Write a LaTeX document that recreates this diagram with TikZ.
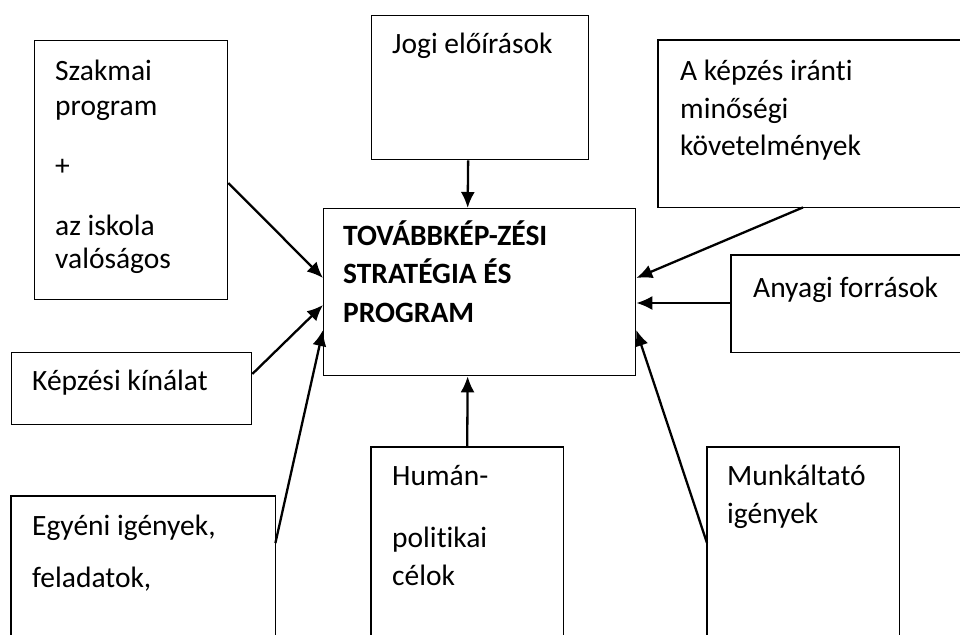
\documentclass[tikz,border=0pt]{standalone}
\usepackage{fontspec}
\setmainfont{Carlito}[Ligatures={NoCommon}]
\usetikzlibrary{arrows.meta}
\begin{document}
\begin{tikzpicture}[x=1pt,y=-1pt,
  box/.style={draw, line width=1.3pt, inner sep=0, anchor=north west},
  openbox/.style={inner sep=0, anchor=north west},
  lbl/.style={anchor=base west, inner sep=0, font=\fontsize{29.5}{35}\selectfont},
  blbl/.style={anchor=base west, inner sep=0, font=\fontsize{29.5}{35}\selectfont\bfseries},
  side/.style={line width=1.3pt},
  arr/.style={line width=2.3pt, -{Latex[length=16pt,width=14pt]}}]
\useasboundingbox (0,0) rectangle (960,634);
% boxes
\node[box, minimum width=193pt, minimum height=259pt] (szak) at (34,40) {};
\node[box, minimum width=217pt, minimum height=144pt] (jogi) at (371,15) {};
\node[openbox, minimum width=304pt, minimum height=167pt] (kepz) at (658,40) {};
\node[openbox, minimum width=231pt, minimum height=97pt] (anyag) at (731,255) {};
\node[box, minimum width=312pt, minimum height=167pt] (main) at (323,208) {};
\node[box, minimum width=240pt, minimum height=72pt] (kinal) at (11,352) {};
\node[openbox, minimum width=264pt, minimum height=140pt] (egyen) at (11,496) {};
\node[openbox, minimum width=192pt, minimum height=189pt] (human) at (371,447) {};
\node[openbox, minimum width=192pt, minimum height=189pt] (munk) at (707,447) {};
% open sides
\draw[side] (kepz.north east) -- (kepz.north west) -- (kepz.south west) -- (kepz.south east);
\draw[side] (anyag.north east) -- (anyag.north west) -- (anyag.south west) -- (anyag.south east);
\draw[side] (egyen.south west) -- (egyen.north west) -- (egyen.north east) -- (egyen.south east);
\draw[side] (human.south west) -- (human.north west) -- (human.north east) -- (human.south east);
\draw[side] (munk.south west) -- (munk.north west) -- (munk.north east) -- (munk.south east);
% texts
\node[lbl] (t1a) at (55,80) {Szakmai};
\node[lbl] (t1b) at (55,115) {program};
\node[lbl] (t1c) at (55,175) {+};
\node[lbl] (t1d) at (55,235) {az iskola};
\node[lbl] (t1e) at (55,268) {valóságos};
\node[lbl] (t2a) at (392,53) {Jogi előírások};
\node[lbl] (t3a) at (680,80) {A képzés iránti};
\node[lbl] (t3b) at (680,118) {minőségi};
\node[lbl] (t3c) at (680,155) {követelmények};
\node[lbl] (t4a) at (753,297) {Anyagi források};
\node[blbl] (t5a) at (343,245) {TOVÁBBKÉP-ZÉSI};
\node[blbl] (t5b) at (343,283) {STRATÉGIA ÉS};
\node[blbl] (t5c) at (343,322) {PROGRAM};
\node[lbl] (t6a) at (32,390) {Képzési kínálat};
\node[lbl] (t7a) at (32,535) {Egyéni igények,};
\node[lbl] (t7b) at (32,587) {feladatok,};
\node[lbl] (t8a) at (392,485) {Humán-};
\node[lbl] (t8b) at (392,547) {politikai};
\node[lbl] (t8c) at (392,585) {célok};
\node[lbl] (t9a) at (727,485) {Munkáltató};
\node[lbl] (t9b) at (727,523) {igények};
% arrows
\draw[arr] ([yshift=-143pt]szak.north east) -- ([yshift=-70pt]main.north west);
\draw[arr] ([yshift=-22pt]kinal.north east) -- ([yshift=-97pt]main.north west);
\draw[arr] ([yshift=-47pt]egyen.north east) -- ([yshift=-122pt]main.north west);
\draw[arr] ([xshift=-12pt]jogi.south) -- ([xshift=-12pt]main.north);
\draw[arr] (human.north) -- ([xshift=-12pt]main.south);
\draw[arr] ([xshift=145pt]kepz.south west) -- ([yshift=-70pt]main.north east);
\draw[arr] ([yshift=-48pt]anyag.north west) -- ([yshift=-95pt]main.north east);
\draw[arr] ([yshift=-96pt]munk.north west) -- ([yshift=-122pt]main.north east);
\end{tikzpicture}
\end{document}
